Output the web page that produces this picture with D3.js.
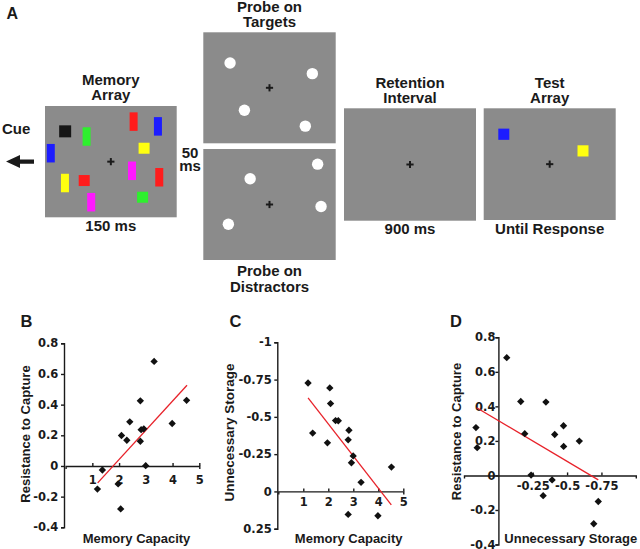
<!DOCTYPE html>
<html><head><meta charset="utf-8">
<script src="https://cdn.jsdelivr.net/npm/d3@7"></script>
<style>
body{margin:0;background:#fff}
svg{display:block}
text{font-family:"Liberation Sans",Arial,Helvetica,sans-serif;font-weight:bold;fill:#1a1a1a}
.tick text{font-family:"DejaVu Sans",Verdana,sans-serif;font-weight:bold;font-size:11.5px;fill:#1a1a1a}
.axis path,.axis line{stroke:#1a1a1a;stroke-width:1.4}
</style>
</head><body>
<svg id="fig" width="640" height="549"></svg>
<script>
// ---------------- DATA ----------------
// per-subject values (15 subjects)
const capacity   = [1.19, 1.375, 1.965, 2.06, 2.09, 2.29, 2.40, 2.795, 2.795, 2.825, 2.925, 2.995, 3.31, 3.985, 4.525];
const resistance = [-0.151, -0.026, -0.117, -0.28, 0.199, 0.168, 0.288, 0.425, 0.161, 0.237, 0.242, 0.002, 0.682, 0.277, 0.428];
const storage    = [-0.727, -0.391, -0.326, -0.694, -0.589, -0.475, -0.474, -0.346, 0.154, -0.41, -0.192, -0.238, -0.061, 0.163, -0.163];

// regression line end points
const fitBx = [1.2, 4.54],   fitBy = [-0.11, 0.526];
const fitCx = [1.19, 4.52],  fitCy = [-0.627, 0.09];
const fitDx = [0.158, -0.727], fitDy = [0.392, -0.026];

// tick values / labels
const capTicks = [1, 2, 3, 4, 5];
const resTicks = [-0.4, -0.2, 0, 0.2, 0.4, 0.6, 0.8];
const resLabels = ["-0.4", "-0.2", "0", "0.2", "0.4", "0.6", "0.8"];
const stoTicksC = [-1, -0.75, -0.5, -0.25, 0, 0.25];
const stoLabelsC = ["-1", "-0.75", "-0.5", "-0.25", "0", "0.25"];
const stoTicksD = [-0.25, -0.5, -0.75];
const stoLabelsD = ["-0.25", "-0.5", "-0.75"];

// Panel A stimuli (display units, 132 x 112 display)
const memX = [20.2, 41.7, 5.8, 88.8, 113.2, 99.3, 87.2, 114.5, 20, 39.3, 46.3, 97.8];
const memY = [25.5, 30.7, 47.5, 15.7, 20.5, 42.5, 65.2, 71.7, 77.5, 75, 96.8, 91.8];
const memColor = ["black","green","blue","red","blue","yellow","magenta","red","yellow","red","magenta","green"];
const memShape = ["square","bar","bar","bar","bar","square","bar","bar","bar","square","bar","square"];
const tgtX = [26.7, 108.7, 41, 101.7], tgtY = [31, 41.7, 78.7, 94.7];
const disX = [114, 46.7, 117.4, 25],  disY = [15.3, 30, 58, 76];
const testX = [20.1, 99.3], testY = [26, 42.7], testColor = ["blue", "yellow"];

// ---------------- STYLE ----------------
const colorMap = {black:"#161616", green:"#2ef02e", blue:"#1c1cff", red:"#ff1c1c", yellow:"#ffff10", magenta:"#ff18ff"};
const gray = "#8b8b8b";
const ink = "#1a1a1a";
const red = "#e8222a";

const svg = d3.select("#fig");

// ---------------- PANEL A ----------------
function drawBox(bx, by, bw, bh) {
  const g = svg.append("g");
  g.append("rect").attr("x", bx).attr("y", by).attr("width", bw).attr("height", bh).attr("fill", gray);
  const sx = d3.scaleLinear().domain([0, 132]).range([bx, bx + bw]);
  const sy = d3.scaleLinear().domain([0, 112]).range([by, by + bh]);
  const cx = sx(66), cy = sy(56);
  g.append("line").attr("x1", cx - 3.6).attr("x2", cx + 3.6).attr("y1", cy).attr("y2", cy).attr("stroke", ink).attr("stroke-width", 2);
  g.append("line").attr("x1", cx).attr("x2", cx).attr("y1", cy - 3.6).attr("y2", cy + 3.6).attr("stroke", ink).attr("stroke-width", 2);
  return {g, sx, sy};
}
function label(lines, cx, y0, dy) {
  lines.forEach((t, i) => svg.append("text").attr("x", cx).attr("y", y0 + i * dy)
    .attr("text-anchor", "middle").style("font-size", "15px").text(t));
}

svg.append("text").attr("x", 6.5).attr("y", 18.5).style("font-size", "16px").text("A");

// Memory array
const mem = drawBox(45, 106, 131.7, 111.3);
memX.forEach((x, i) => {
  const w = memShape[i] === "bar" ? 8 : (memColor[i] === "black" ? 12 : 11);
  const h = memShape[i] === "bar" ? 18.5 : (memColor[i] === "black" ? 12 : 11);
  mem.g.append("rect").attr("x", mem.sx(x) - w / 2).attr("y", mem.sy(memY[i]) - h / 2)
    .attr("width", w).attr("height", h).attr("fill", colorMap[memColor[i]]);
});
label(["Memory", "Array"], 110.8, 85.3, 15);
label(["150 ms"], 110.8, 230.7, 0);

// Cue
svg.append("text").attr("x", 2).attr("y", 134.3).style("font-size", "15px").text("Cue");
svg.append("path").attr("d", "M6,161.5 L20,155 L20,159.5 L34,159.5 L34,163.7 L20,163.7 L20,168 Z").attr("fill", ink);

// 50 ms
label(["50"], 190, 158.3, 0);
label(["ms"], 190, 170.7, 0);

// Probe on targets
const tg = drawBox(203.3, 32.3, 132.4, 111);
tgtX.forEach((x, i) => tg.g.append("circle").attr("cx", tg.sx(x)).attr("cy", tg.sy(tgtY[i])).attr("r", 5.7).attr("fill", "#fff"));
label(["Probe on", "Targets"], 269.5, 11.8, 15);

// Probe on distractors
const ds = drawBox(203.3, 149, 132.4, 111);
disX.forEach((x, i) => ds.g.append("circle").attr("cx", ds.sx(x)).attr("cy", ds.sy(disY[i])).attr("r", 5.7).attr("fill", "#fff"));
label(["Probe on", "Distractors"], 269.5, 275.5, 16);

// Retention
drawBox(344, 108.3, 132, 112.4);
label(["Retention", "Interval"], 410, 87.8, 15);
label(["900 ms"], 410, 234.3, 0);

// Test
const ts = drawBox(483.7, 108.3, 132, 111.7);
testX.forEach((x, i) => ts.g.append("rect").attr("x", ts.sx(x) - 5.5).attr("y", ts.sy(testY[i]) - 5.6)
  .attr("width", 11).attr("height", 11.2).attr("fill", colorMap[testColor[i]]));
label(["Test", "Array"], 549.7, 87.8, 15);
label(["Until Response"], 549.7, 234.3, 0);

// ---------------- SCATTER PANELS ----------------
function scatter(o) {
  const g = svg.append("g");
  // y axis
  g.append("g").attr("class", "axis").attr("transform", `translate(${o.yAxisX},0)`)
    .call(d3.axisLeft(o.y).tickValues(o.yTicks).tickFormat((d, i) => o.yLabels[i])
      .tickSize(3).tickPadding(o.yPad));
  // x axis
  g.append("g").attr("class", "axis").attr("transform", `translate(0,${o.y(0)})`)
    .call(d3.axisBottom(o.x).tickValues(o.xTicks).tickFormat((d, i) => o.xLabels[i])
      .tickSizeInner(-3).tickSizeOuter(3).tickPadding(o.xPad));
  // fit line
  g.append("line").attr("x1", o.x(o.fx[0])).attr("y1", o.y(o.fy[0]))
    .attr("x2", o.x(o.fx[1])).attr("y2", o.y(o.fy[1]))
    .attr("stroke", red).attr("stroke-width", 1.3);
  // points
  const sym = d3.symbol(d3.symbolSquare).size(27);
  o.px.forEach((v, i) => g.append("path").attr("d", sym)
    .attr("transform", `translate(${o.x(v)},${o.y(o.py[i])}) rotate(45)`).attr("fill", "#111"));
  // letter
  svg.append("text").attr("x", o.letterX).attr("y", 326.7).style("font-size", "16.5px").text(o.letter);
  // titles
  svg.append("text").attr("x", o.xTitleX).attr("y", 542.6).attr("text-anchor", "middle")
    .style("font-size", "13px").text(o.xTitle);
  svg.append("text").attr("transform", `translate(${o.yTitleX},${o.yTitleY}) rotate(-90)`)
    .attr("text-anchor", "middle").style("font-size", o.yTitleSize || "13px").text(o.yTitle);
}

// B
scatter({
  x: d3.scaleLinear().domain([0, 5]).range([65.6, 199.3]),
  y: d3.scaleLinear().domain([-0.4, 0.8]).range([527.3, 343.3]),
  yAxisX: 64, yTicks: resTicks, yLabels: resLabels, yPad: 2.7,
  xTicks: capTicks, xLabels: capTicks.map(String), xPad: 10,
  px: capacity, py: resistance, fx: fitBx, fy: fitBy,
  letter: "B", letterX: 20.5,
  xTitle: "Memory Capacity", xTitleX: 136.5,
  yTitle: "Resistance to Capture", yTitleX: 29.5, yTitleY: 434
});

// C
scatter({
  x: d3.scaleLinear().domain([0, 5]).range([278.3, 403.3]),
  y: d3.scaleLinear().domain([-1, 0.25]).range([342.3, 528.7]),
  yAxisX: 277.3, yTicks: stoTicksC, yLabels: stoLabelsC, yPad: 2.6,
  xTicks: capTicks, xLabels: capTicks.map(String), xPad: 6,
  px: capacity, py: storage, fx: fitCx, fy: fitCy,
  letter: "C", letterX: 229.5,
  xTitle: "Memory Capacity", xTitleX: 348.7,
  yTitle: "Unnecessary Storage", yTitleX: 234.3, yTitleY: 432.5, yTitleSize: "13.5px"
});

// D
scatter({
  x: d3.scaleLinear().domain([0.25, -1.0]).range([464, 635.8]),
  y: d3.scaleLinear().domain([-0.4, 0.8]).range([544.5, 337.3]),
  yAxisX: 498.4, yTicks: resTicks, yLabels: resLabels, yPad: 0,
  xTicks: stoTicksD, xLabels: stoLabelsD, xPad: 6.5,
  px: storage, py: resistance, fx: fitDx, fy: fitDy,
  letter: "D", letterX: 450,
  xTitle: "Unnecessary Storage", xTitleX: 570.8,
  yTitle: "Resistance to Capture", yTitleX: 461, yTitleY: 431.5
});
</script>
</body></html>
